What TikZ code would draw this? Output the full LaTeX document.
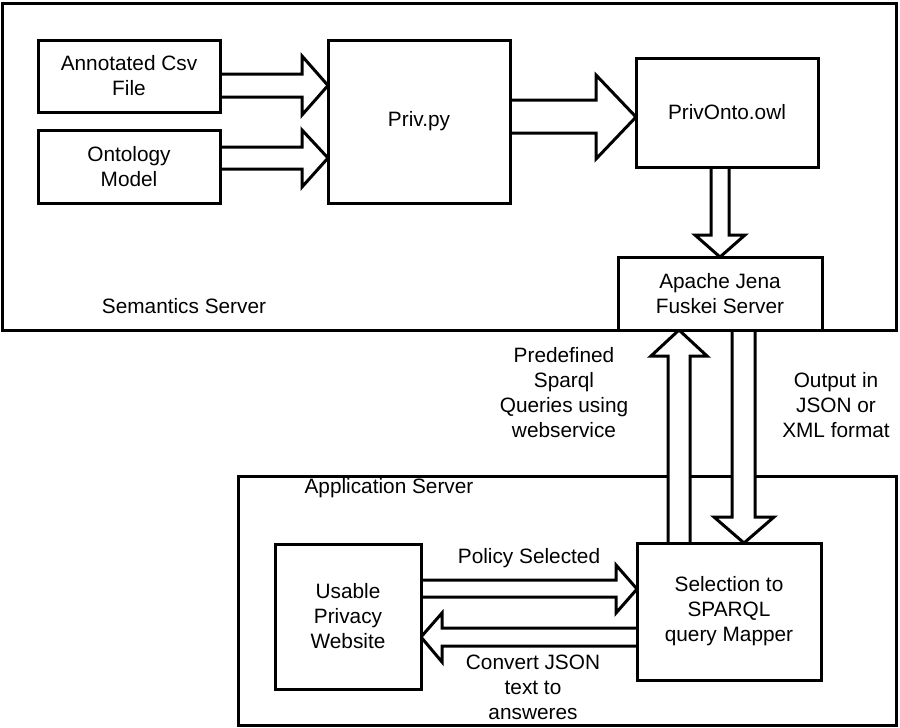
\documentclass[tikz,border=0pt]{standalone}
\usepackage{fontspec}
\setmainfont{Liberation Sans}
\pgfdeclarelayer{bg}
\pgfdeclarelayer{mid}
\pgfsetlayers{bg,mid,main}
\begin{document}
\begin{tikzpicture}[x=1pt,y=-1pt,
  every node/.style={font=\fontsize{20.8}{25}\selectfont, align=center},
  box/.style={draw, line width=3pt, fill=white, outer sep=0pt, inner sep=0pt},
  outerbox/.style={draw, line width=3pt, outer sep=0pt, inner sep=0pt},
  blockarrow/.style={draw, line width=3pt, fill=white, line join=miter},
  lbl/.style={inner sep=0pt}]
\useasboundingbox (0,0) rectangle (900,728);

% inner boxes
\node[box, minimum width=182pt, minimum height=72pt] (csv) at (129,76) {Annotated Csv\\File};
\node[box, minimum width=182pt, minimum height=73pt] (onto) at (129,166.5) {Ontology\\Model};
\node[box, minimum width=182pt, minimum height=163pt] (priv) at (419,121.5) {Priv.py};
\node[box, minimum width=182pt, minimum height=109pt] (owl) at (727,112.5) {PrivOnto.owl};
\node[box, minimum width=204pt, minimum height=73pt] (jena) at (720,293.5) {Apache Jena\\Fuskei Server};
\node[box, minimum width=184pt, minimum height=137pt] (sel) at (729,611.5) {Selection to\\SPARQL\\query Mapper};
\node[box, minimum width=146pt, minimum height=145pt] (usable) at (348,616.5) {Usable\\Privacy\\Website};

% labels
\node[lbl] (semlbl) at (184,306) {Semantics Server};
\node[lbl] (applbl) at (389,488) {Application Server};
\node[lbl] (pollbl) at (529,558) {Policy Selected};
\node[lbl] (convlbl) at (533,687) {Convert JSON\\text to\\answeres};
\node[lbl] (predlbl) at (564,393) {Predefined\\Sparql\\Queries using\\webservice};
\node[lbl] (outlbl) at (836,405) {Output in\\JSON or\\XML format};

% outer containers
\begin{pgfonlayer}{bg}
\node[outerbox, minimum width=894pt, minimum height=327pt] (sem) at (449,166.5) {};
\node[outerbox, minimum width=658pt, minimum height=249pt] (app) at (567,600.5) {};
\end{pgfonlayer}

% block arrows
\begin{pgfonlayer}{mid}
\draw[blockarrow] (csv.east |- 0,74) -- (302,74) -- (302,56) -- (priv.west |- 0,85.5)
  -- (302,115) -- (302,97) -- (csv.east |- 0,97);
\draw[blockarrow] (onto.east |- 0,147) -- (302,147) -- (302,130) -- (priv.west |- 0,158)
  -- (302,187) -- (302,169) -- (onto.east |- 0,169);
\draw[blockarrow] (priv.east |- 0,100) -- (596,100) -- (596,75) -- (owl.west |- 0,117)
  -- (596,159) -- (596,133) -- (priv.east |- 0,133);
\draw[blockarrow] (711,0 |- owl.south) -- (711,235) -- (695,235) -- (720,0 |- jena.north)
  -- (745,235) -- (729,235) -- (729,0 |- owl.south);
\draw[blockarrow] (668,0 |- sel.north) -- (668,356) -- (651,356) -- (679,0 |- jena.south)
  -- (707,356) -- (690,356) -- (690,0 |- sel.north);
\draw[blockarrow] (732,0 |- jena.south) -- (732,517) -- (714,517) -- (744,0 |- sel.north)
  -- (774,517) -- (755,517) -- (755,0 |- jena.south);
\draw[blockarrow] (usable.east |- 0,580) -- (616,580) -- (616,565) -- (sel.west |- 0,589)
  -- (616,613) -- (616,597) -- (usable.east |- 0,597);
\draw[blockarrow] (sel.west |- 0,628) -- (442,628) -- (442,613) -- (usable.east |- 0,637)
  -- (442,662) -- (442,646) -- (sel.west |- 0,646);
\end{pgfonlayer}
\end{tikzpicture}
\end{document}
